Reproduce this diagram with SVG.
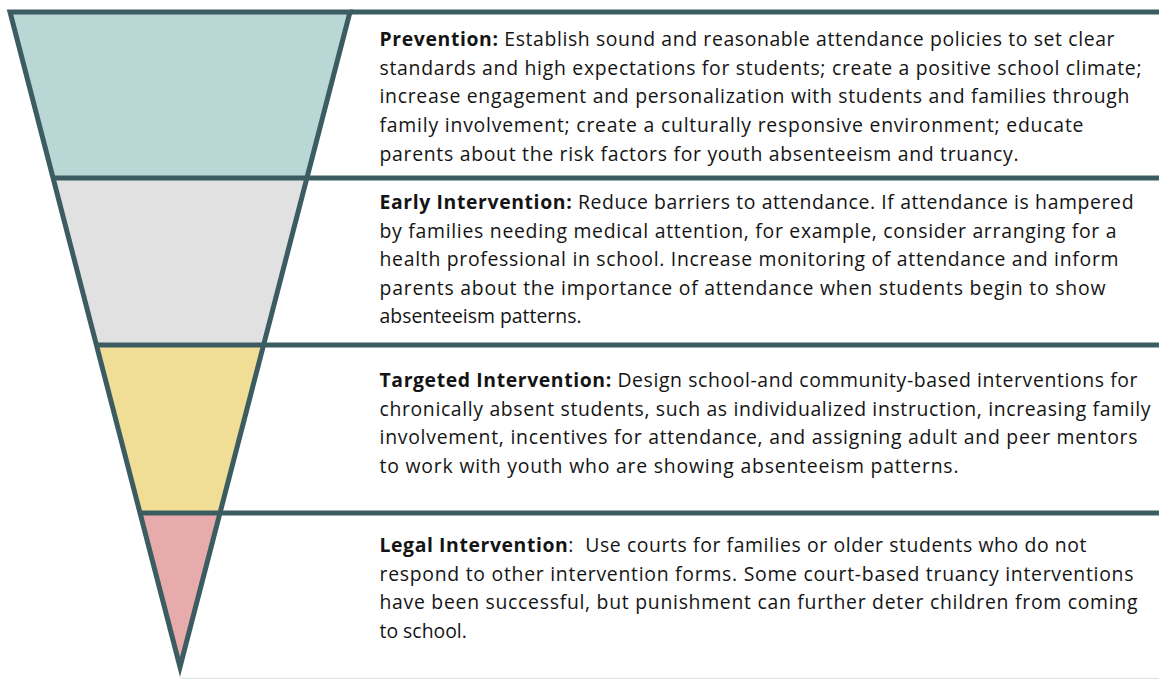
<svg xmlns="http://www.w3.org/2000/svg" width="1159" height="679" viewBox="0 0 1159 679">
  <style>
    .rule { stroke: #3b5d62; stroke-width: 5; fill: none; }
    .edge { stroke: #3b5d62; stroke-width: 5; fill: none; stroke-linejoin: miter; stroke-miterlimit: 10; }
    .txt { font-family: "Open Sans", "Liberation Sans", sans-serif; font-size: 19.4px; fill: #141414; }
    .b { font-weight: bold; }
  </style>
  <rect width="1159" height="679" fill="#ffffff"/>

  <!-- Tier 1: Prevention -->
  <g id="prevention">
    <polygon points="10,12 350,12 306.9,178 53.1,178" fill="#b8d7d5"/>
    <text class="txt" x="379.5" y="46" textLength="735" lengthAdjust="spacing"><tspan class="b">Prevention:</tspan> Establish sound and reasonable attendance policies to set clear</text>
    <text class="txt" x="379.5" y="74.5" textLength="762" lengthAdjust="spacing">standards and high expectations for students; create a positive school climate;</text>
    <text class="txt" x="379.5" y="103" textLength="750" lengthAdjust="spacing">increase engagement and personalization with students and families through</text>
    <text class="txt" x="379.5" y="132" textLength="704" lengthAdjust="spacing">family involvement; create a culturally responsive environment; educate</text>
    <text class="txt" x="379.5" y="160.5" textLength="639" lengthAdjust="spacing">parents about the risk factors for youth absenteeism and truancy.</text>
  </g>

  <!-- Tier 2: Early Intervention -->
  <g id="early-intervention">
    <polygon points="53.1,178 306.9,178 263.6,345 96.4,345" fill="#e1e1e1"/>
    <text class="txt" x="379.5" y="209" textLength="754" lengthAdjust="spacing"><tspan class="b">Early Intervention:</tspan> Reduce barriers to attendance. If attendance is hampered</text>
    <text class="txt" x="379.5" y="237.5" textLength="737" lengthAdjust="spacing">by families needing medical attention, for example, consider arranging for a</text>
    <text class="txt" x="379.5" y="266" textLength="739" lengthAdjust="spacing">health professional in school. Increase monitoring of attendance and inform</text>
    <text class="txt" x="379.5" y="294.5" textLength="726" lengthAdjust="spacing">parents about the importance of attendance when students begin to show</text>
    <text class="txt" x="379.5" y="323">absenteeism patterns.</text>
  </g>

  <!-- Tier 3: Targeted Intervention -->
  <g id="targeted-intervention">
    <polygon points="96.4,345 263.6,345 220,513 140,513" fill="#f0dd96"/>
    <text class="txt" x="379.5" y="387" textLength="758" lengthAdjust="spacing"><tspan class="b">Targeted Intervention:</tspan> Design school-and community-based interventions for</text>
    <text class="txt" x="379.5" y="415.5" textLength="771" lengthAdjust="spacing">chronically absent students, such as individualized instruction, increasing family</text>
    <text class="txt" x="379.5" y="444" textLength="758" lengthAdjust="spacing">involvement, incentives for attendance, and assigning adult and peer mentors</text>
    <text class="txt" x="379.5" y="472.5" textLength="579" lengthAdjust="spacing">to work with youth who are showing absenteeism patterns.</text>
  </g>

  <!-- Tier 4: Legal Intervention -->
  <g id="legal-intervention">
    <polygon points="140,513 220,513 180,667" fill="#e8abab"/>
    <text class="txt" x="379.5" y="552" textLength="707" lengthAdjust="spacing" xml:space="preserve"><tspan class="b">Legal Intervention</tspan>:  Use courts for families or older students who do not</text>
    <text class="txt" x="379.5" y="580.5" textLength="754" lengthAdjust="spacing">respond to other intervention forms. Some court-based truancy interventions</text>
    <text class="txt" x="379.5" y="609" textLength="758" lengthAdjust="spacing">have been successful, but punishment can further deter children from coming</text>
    <text class="txt" x="379.5" y="637.5">to school.</text>
  </g>

  <!-- Funnel outline and the rules that divide the tiers -->
  <g id="connectors">
    <line x1="180" y1="678.5" x2="1159" y2="678.5" stroke="#dfe8e8" stroke-width="1.5"/>
    <path class="edge" d="M350,12 L10,12 L180,667 Z"/>
    <line class="rule" x1="350" y1="12" x2="1159" y2="12"/>
    <line class="rule" x1="53.1" y1="178" x2="1159" y2="178"/>
    <line class="rule" x1="96.4" y1="345" x2="1159" y2="345"/>
    <line class="rule" x1="140" y1="513" x2="1159" y2="513"/>
  </g>
</svg>
